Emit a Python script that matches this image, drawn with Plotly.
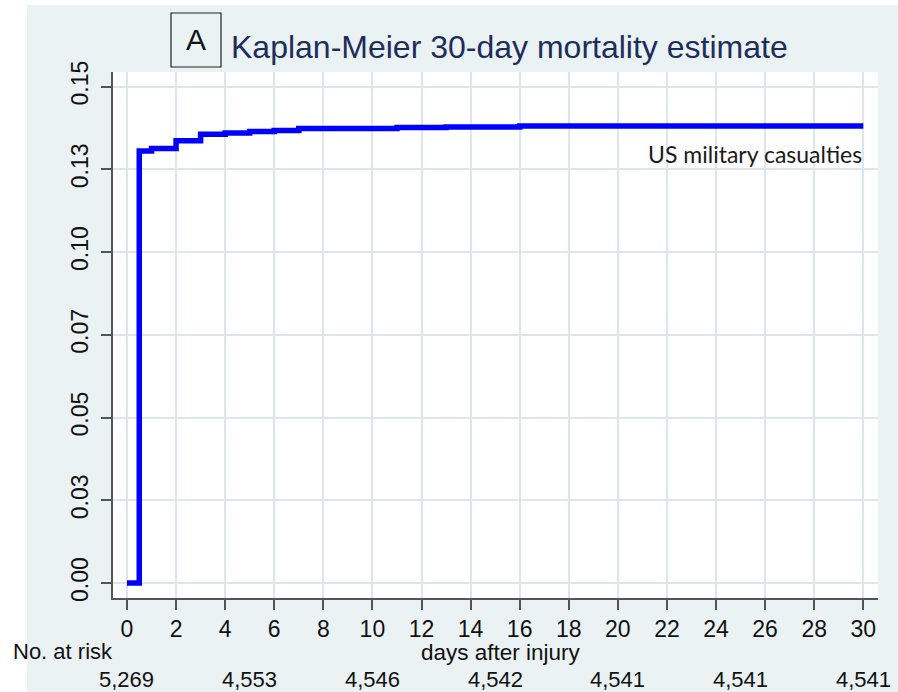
import plotly.graph_objects as go

# ---- data ----
days = [0, 0.5, 1, 2, 3, 4, 5, 6, 7, 11, 13, 16, 30]
mortality = [0.0, 0.1305, 0.1313, 0.1336, 0.1356, 0.1360, 0.1364, 0.1367, 0.1373, 0.1376, 0.1378, 0.1381, 0.1381]

x_ticks = list(range(0, 31, 2))
y_tickvals = [0.0, 0.025, 0.05, 0.075, 0.10, 0.125, 0.15]
y_ticktext = ["0.00", "0.03", "0.05", "0.07", "0.10", "0.13", "0.15"]

risk_days = [0, 5, 10, 15, 20, 25, 30]
risk_counts = ["5,269", "4,553", "4,546", "4,542", "4,541", "4,541", "4,541"]

title_text = "Kaplan-Meier 30-day mortality estimate"
panel_letter = "A"
series_label = "US military casualties"

# ---- layout geometry ----
W, H = 898, 692
L, R, T, B = 113, 20, 72, 94
PW, PH = W - L - R, H - T - B

def px(xp):
    return (xp - L) / PW

def py(yp):
    return (H - B - yp) / PH

BG = "#eaf2f3"
GRID = "#dbe7ec"
AX = "#555555"
FONT = "Liberation Sans, Arial, sans-serif"

fig = go.Figure()
fig.add_trace(go.Scatter(
    x=days, y=mortality, mode="lines", line=dict(color="#0000ff", width=5.5, shape="hv"),
    showlegend=False, hoverinfo="x+y"))

fig.update_layout(
    width=W, height=H,
    margin=dict(l=L, r=R, t=T, b=B, pad=0),
    paper_bgcolor=BG, plot_bgcolor="white",
    font=dict(family=FONT, size=23, color="#111111"),
    showlegend=False,
)

fig.update_xaxes(
    range=[-0.57, 30.6], tickvals=x_ticks, ticktext=[str(v) for v in x_ticks],
    showgrid=True, gridcolor=GRID, gridwidth=2,
    showline=True, linecolor=AX, linewidth=1.5,
    ticks="outside", ticklen=10, tickwidth=1.5, tickcolor=AX,
    tickfont=dict(size=23, color="#111111"), zeroline=False,
)
fig.update_yaxes(
    range=[-0.00453, 0.1544], tickvals=y_tickvals, ticktext=y_ticktext,
    showgrid=True, gridcolor=GRID, gridwidth=2,
    showline=True, linecolor=AX, linewidth=1.5,
    ticks="outside", ticklen=10, tickwidth=1.5, tickcolor=AX,
    tickangle=-90, tickfont=dict(size=23, color="#111111"), zeroline=False,
    ticklabelstandoff=4,
)

shapes = [
    # white margins outside the shaded background
    dict(type="rect", xref="paper", yref="paper", x0=px(0), x1=px(27), y0=py(H), y1=py(0),
         fillcolor="white", line=dict(width=0), layer="below"),
    dict(type="rect", xref="paper", yref="paper", x0=px(0), x1=px(W), y0=py(5), y1=py(0),
         fillcolor="white", line=dict(width=0), layer="below"),
    # box around panel letter
    dict(type="rect", xref="paper", yref="paper", x0=px(171), x1=px(221), y0=py(67), y1=py(13),
         line=dict(color="#222222", width=1.2), fillcolor="rgba(0,0,0,0)"),
]
fig.update_layout(shapes=shapes)

ann = []
ann.append(dict(text=panel_letter, xref="paper", yref="paper", x=px(196), y=py(40),
                xanchor="center", yanchor="middle", showarrow=False,
                font=dict(family=FONT, size=30, color="#111111")))
ann.append(dict(text=title_text, xref="paper", yref="paper", x=px(229), y=py(47),
                xanchor="left", yanchor="middle", showarrow=False,
                font=dict(family=FONT, size=32, color="#1e2d5b")))
ann.append(dict(text=series_label, xref="paper", yref="paper", x=px(864), y=py(154),
                xanchor="right", yanchor="middle", showarrow=False,
                font=dict(family="Lato, sans-serif", size=23, color="#1a1a1a")))
ann.append(dict(text="days after injury", xref="paper", yref="paper", x=px(501), y=py(652),
                xanchor="center", yanchor="middle", showarrow=False,
                font=dict(family=FONT, size=22.5, color="#111111")))
ann.append(dict(text="No. at risk", xref="paper", yref="paper", x=px(11), y=py(651),
                xanchor="left", yanchor="middle", showarrow=False,
                font=dict(family=FONT, size=22, color="#111111")))
for d, c in zip(risk_days, risk_counts):
    ann.append(dict(text=c, xref="x", yref="paper", x=d, y=py(679),
                    xanchor="center", yanchor="middle", showarrow=False,
                    font=dict(family=FONT, size=22, color="#111111")))
fig.update_layout(annotations=ann)

fig.write_html(
    "out.html",
    config={"displayModeBar": False},
    post_script="document.body.style.margin='0';document.body.style.overflow='hidden';",
)
